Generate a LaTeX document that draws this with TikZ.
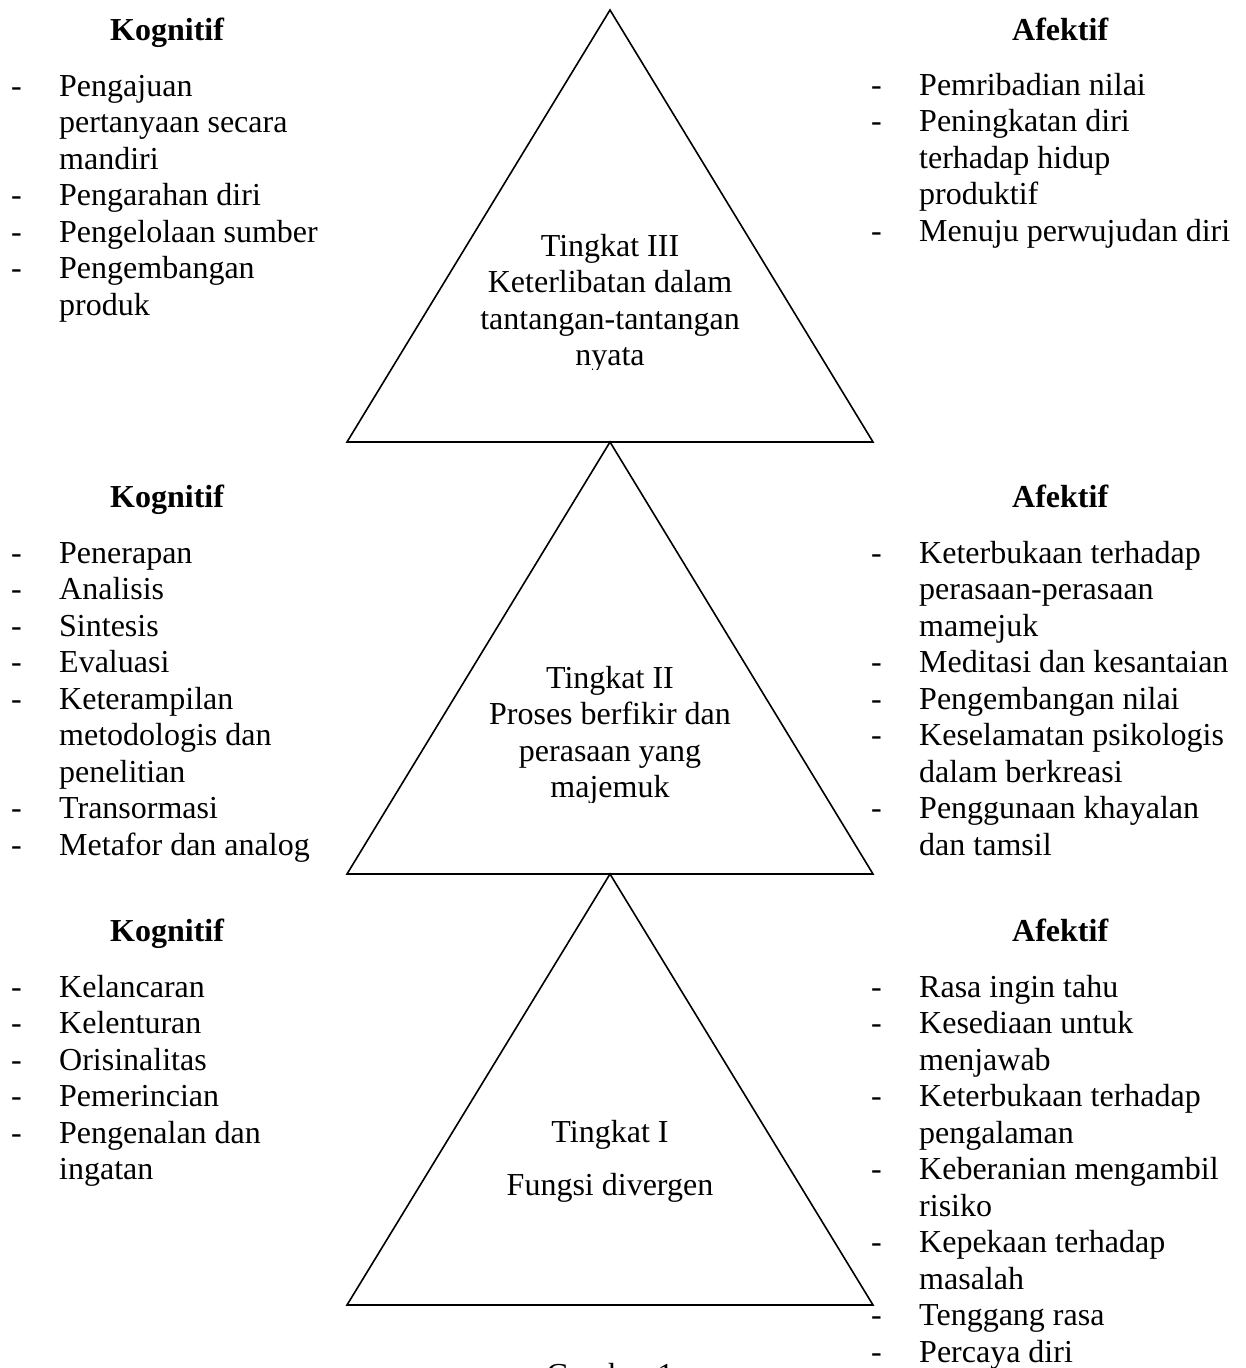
\documentclass[tikz,border=0pt]{standalone}
\usepackage{fontspec}
\setmainfont{Liberation Serif}
\begin{document}
\begin{tikzpicture}[x=1pt,y=-1pt,
  txt/.style={anchor=base west,inner sep=0pt,font=\fontsize{32}{36.5}\selectfont},
  ctr/.style={anchor=base,inner sep=0pt,font=\fontsize{32}{36.5}\selectfont},
  hdr/.style={anchor=base west,inner sep=0pt,font=\fontsize{32}{36.5}\selectfont\bfseries},
  tri/.style={draw=black,line width=1.6pt,line join=miter}]
\useasboundingbox (0,0) rectangle (1246,1368);
% triangles
\draw[tri] (610,10) -- (873,442) -- (347,442) -- cycle;
\draw[tri] (610,442) -- (873,874) -- (347,874) -- cycle;
\draw[tri] (610,874) -- (873,1305) -- (347,1305) -- cycle;
% headers
\node[hdr] (hK1) at (110,40) {Kognitif};
\node[hdr] (hA1) at (1012,40) {Afektif};
\node[hdr] (hK2) at (110,507) {Kognitif};
\node[hdr] (hA2) at (1012,507) {Afektif};
\node[hdr] (hK3) at (110,941) {Kognitif};
\node[hdr] (hA3) at (1012,941) {Afektif};
% lists
\newcommand\mylist[4]{%
  \foreach \d/\t [count=\i from 0] in {#4} {
    \pgfmathsetmacro\yy{#2+36.5*\i}
    \node[txt,name=#3t\i] at (#1+48,\yy) {\t};
    \ifnum\d=1 \node[txt,name=#3d\i] at (#1,\yy) {-};\fi
  }}
\mylist{11}{96}{LA}{1/Pengajuan,0/pertanyaan secara,0/mandiri,1/Pengarahan diri,1/Pengelolaan sumber,1/Pengembangan,0/produk}
\mylist{871}{95}{RA}{1/Pemribadian nilai,1/Peningkatan diri,0/terhadap hidup,0/produktif,1/Menuju perwujudan diri}
\mylist{11}{563}{LB}{1/Penerapan,1/Analisis,1/Sintesis,1/Evaluasi,1/Keterampilan,0/metodologis dan,0/penelitian,1/Transormasi,1/Metafor dan analog}
\mylist{871}{563}{RB}{1/Keterbukaan terhadap,0/perasaan-perasaan,0/mamejuk,1/Meditasi dan kesantaian,1/Pengembangan nilai,1/Keselamatan psikologis,0/dalam berkreasi,1/Penggunaan khayalan,0/dan tamsil}
\mylist{11}{997}{LC}{1/Kelancaran,1/Kelenturan,1/Orisinalitas,1/Pemerincian,1/Pengenalan dan,0/ingatan}
\mylist{871}{997}{RC}{1/Rasa ingin tahu,1/Kesediaan untuk,0/menjawab,1/Keterbukaan terhadap,0/pengalaman,1/Keberanian mengambil,0/risiko,1/Kepekaan terhadap,0/masalah,1/Tenggang rasa,1/Percaya diri}
% triangle III text
\node[ctr] (t3a) at (610,256) {Tingkat III};
\node[ctr] (t3b) at (610,292.5) {Keterlibatan dalam};
\node[ctr] (t3c) at (610,329) {tantangan-tantangan};
\begin{scope}
\clip (450,300) rectangle (770,369);
\node[ctr] (t3d) at (610,365.5) {nyata};
\end{scope}
% triangle II text
\node[ctr] (t2a) at (610,688) {Tingkat II};
\node[ctr] (t2b) at (610,724.5) {Proses berfikir dan};
\node[ctr] (t2c) at (610,761) {perasaan yang};
\begin{scope}
\clip (450,770) rectangle (770,802);
\node[ctr] (t2d) at (610,797.5) {majemuk};
\end{scope}
% triangle I text
\node[ctr] (t1a) at (610,1142) {Tingkat I};
\node[ctr] (t1b) at (610,1195) {Fungsi divergen};
% caption (cut off at the bottom edge, as in the reference)
\node[ctr] (cap) at (610,1385) {Gambar 1};
\end{tikzpicture}
\end{document}
